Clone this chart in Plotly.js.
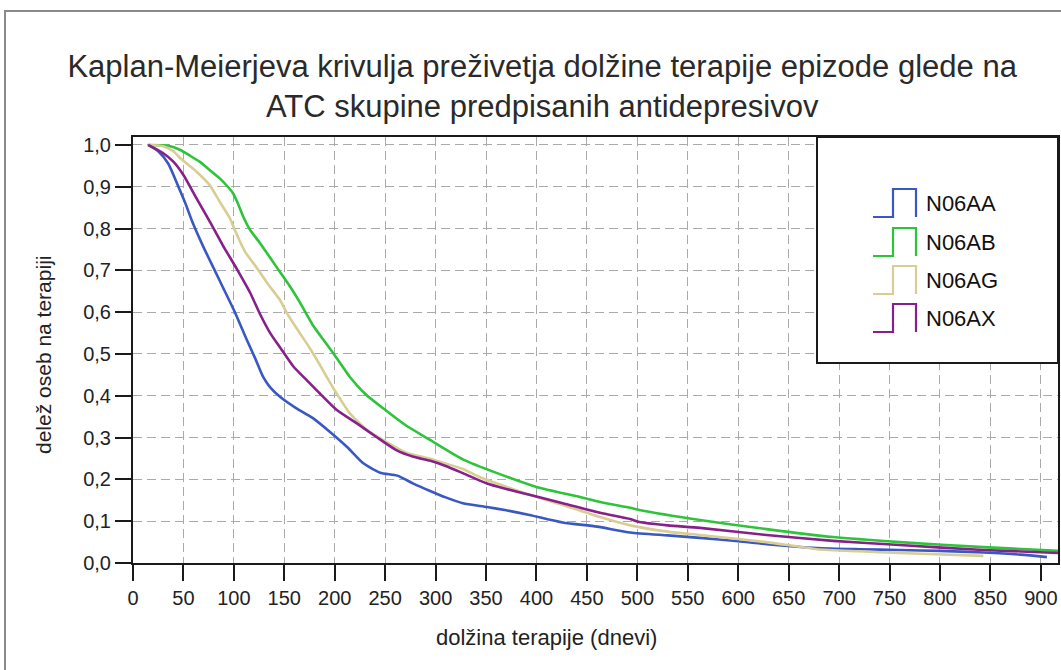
<!DOCTYPE html>
<html>
<head>
<meta charset="utf-8">
<script src="https://cdn.plot.ly/plotly-3.0.1.min.js"></script>
<style>
html,body{margin:0;padding:0;background:#fff;}
#chart{position:absolute;left:0;top:0;width:1061px;height:670px;}
#frame{position:absolute;left:4px;top:10px;width:1080px;height:700px;border:2px solid #8a8a8a;pointer-events:none;}
</style>
</head>
<body>
<div id="chart"></div>
<div id="frame"></div>
<script>
// Data (days, survival proportion)
const seriesNames = ['N06AA', 'N06AB', 'N06AG', 'N06AX'];

const aaDays = [15,25,35,45,52,59,70,81,91,101,113,121,129,136,146,162,178,195,212,228,245,262,278,294,310,327,351,370,393,426,460,493,530,562,600,628,678,720,760,800,843,880,906];
const aaSurv = [1.0,0.985,0.955,0.9,0.86,0.815,0.755,0.7,0.65,0.6,0.533,0.49,0.445,0.42,0.397,0.37,0.347,0.314,0.278,0.239,0.216,0.209,0.19,0.173,0.157,0.143,0.134,0.126,0.115,0.097,0.087,0.073,0.066,0.06,0.052,0.045,0.036,0.033,0.031,0.029,0.025,0.02,0.014];

const abDays = [15,35,47,56,66,76,86,94,99,104,109,116,126,136,146,156,165,178,190,202,215,230,248,270,294,327,361,400,443,463,493,502,562,628,694,760,843,917];
const abSurv = [1.0,0.998,0.988,0.975,0.96,0.94,0.92,0.9,0.885,0.86,0.83,0.797,0.765,0.73,0.695,0.66,0.625,0.57,0.53,0.49,0.445,0.405,0.37,0.33,0.295,0.248,0.215,0.182,0.158,0.146,0.132,0.127,0.103,0.081,0.062,0.05,0.038,0.029];

const agDays = [15,30,40,47,63,76,86,96,103,111,123,133,146,152,162,175,185,192,202,215,232,251,271,294,310,327,344,361,393,426,463,493,530,562,628,678,720,760,843];
const agSurv = [1.0,0.997,0.985,0.968,0.936,0.904,0.864,0.825,0.785,0.745,0.705,0.67,0.628,0.6,0.562,0.515,0.475,0.445,0.405,0.358,0.318,0.29,0.264,0.25,0.238,0.225,0.205,0.19,0.163,0.139,0.11,0.09,0.075,0.067,0.05,0.033,0.028,0.024,0.017];

const axDays = [15,30,40,50,63,76,89,103,116,126,136,146,159,172,185,202,222,241,261,278,294,310,327,351,370,393,426,463,493,502,530,562,628,694,760,843,917];
const axSurv = [1.0,0.98,0.96,0.928,0.872,0.817,0.76,0.703,0.647,0.595,0.55,0.515,0.47,0.438,0.406,0.366,0.334,0.302,0.27,0.254,0.245,0.232,0.215,0.19,0.177,0.163,0.143,0.12,0.105,0.098,0.09,0.084,0.067,0.053,0.043,0.031,0.024];

const xTicks = [0,50,100,150,200,250,300,350,400,450,500,550,600,650,700,750,800,850,900];
const yTicks = [0,0.1,0.2,0.3,0.4,0.5,0.6,0.7,0.8,0.9,1.0];

const colors = ['#3a58c4', '#2ec43a', '#d8cd92', '#87208a'];
const allDays = [aaDays, abDays, agDays, axDays];
const allSurv = [aaSurv, abSurv, agSurv, axSurv];

const traces = seriesNames.map((n, i) => ({
  type: 'scatter', mode: 'lines', name: n,
  x: allDays[i], y: allSurv[i],
  line: {color: colors[i], width: 2.6, shape: 'spline', smoothing: 0.6},
  showlegend: false, hoverinfo: 'x+y+name'
}));

// plot area in pixels
const L = 133, R = 1058, T = 137, B = 563, W = 1061, H = 670;
const px = v => (v - L) / (R - L);
const py = v => (B - v) / (B - T);
const FONT = 'Liberation Sans, Arial, sans-serif';

const shapes = [];
const annotations = [];
// custom legend box
shapes.push({type:'rect', xref:'paper', yref:'paper', x0:px(817), x1:px(1058), y0:py(363), y1:py(137),
  line:{color:'#1a1a1a', width:2}, fillcolor:'#ffffff', layer:'above'});
const legCenters = [203, 242, 280, 318];
seriesNames.forEach((n, i) => {
  const c = legCenters[i];
  const yb = py(c + 14), yt = py(c - 14);
  shapes.push({type:'path', xref:'paper', yref:'paper', layer:'above',
    path: `M ${px(873)} ${yb} L ${px(893)} ${yb} L ${px(893)} ${yt} L ${px(916)} ${yt} L ${px(916)} ${yb}`,
    line:{color: colors[i], width: 2.2}});
  annotations.push({xref:'paper', yref:'paper', x:px(924), y:py(c), xanchor:'left', yanchor:'middle',
    text: n, showarrow:false, font:{family:FONT, size:22, color:'#111'}});
});
// axis titles placed like the reference
annotations.push({xref:'paper', yref:'paper', x:px(546), y:py(637), xanchor:'center', yanchor:'middle',
  text:'dolžina terapije (dnevi)', showarrow:false, font:{family:FONT, size:22, color:'#222'}});
annotations.push({xref:'paper', yref:'paper', x:px(43), y:py(355), xanchor:'center', yanchor:'middle',
  text:'delež oseb na terapiji', textangle:-90, showarrow:false, font:{family:FONT, size:21, color:'#222'}});

const layout = {
  width: W, height: H,
  paper_bgcolor: '#ffffff', plot_bgcolor: '#ffffff',
  separators: ', ',
  margin: {l: L, r: W - R, t: T, b: H - B, pad: 0},
  font: {family: FONT, color: '#222'},
  title: {
    text: 'Kaplan-Meierjeva krivulja preživetja dolžine terapije epizode glede na<br>ATC skupine predpisanih antidepresivov',
    x: 0.511, xref: 'container', xanchor: 'center',
    y: 1 - 77/H, yref: 'container', yanchor: 'middle',
    font: {family: FONT, size: 31, color: '#2a2a2a'}
  },
  xaxis: {
    range: [0, 917], tickmode: 'array', tickvals: xTicks,
    ticks: 'outside', ticklen: 16, tickwidth: 2, tickcolor: '#1a1a1a',
    showline: true, linecolor: '#1a1a1a', linewidth: 2, mirror: true,
    showgrid: true, gridcolor: '#aaaaaa', gridwidth: 1, griddash: '9px,5px',
    zeroline: false,
    tickfont: {size: 20, color: '#222'}
  },
  yaxis: {
    range: [0, 1.019], tickmode: 'array', tickvals: yTicks, tickformat: '.1f',
    ticks: 'outside', ticklen: 16, tickwidth: 2, tickcolor: '#1a1a1a',
    showline: true, linecolor: '#1a1a1a', linewidth: 2, mirror: true,
    showgrid: true, gridcolor: '#aaaaaa', gridwidth: 1, griddash: '9px,5px',
    zeroline: false,
    tickfont: {size: 20, color: '#222'}
  },
  shapes: shapes,
  annotations: annotations,
  showlegend: false
};

Plotly.newPlot('chart', traces, layout, {displayModeBar: false, staticPlot: true});
</script>
</body>
</html>
